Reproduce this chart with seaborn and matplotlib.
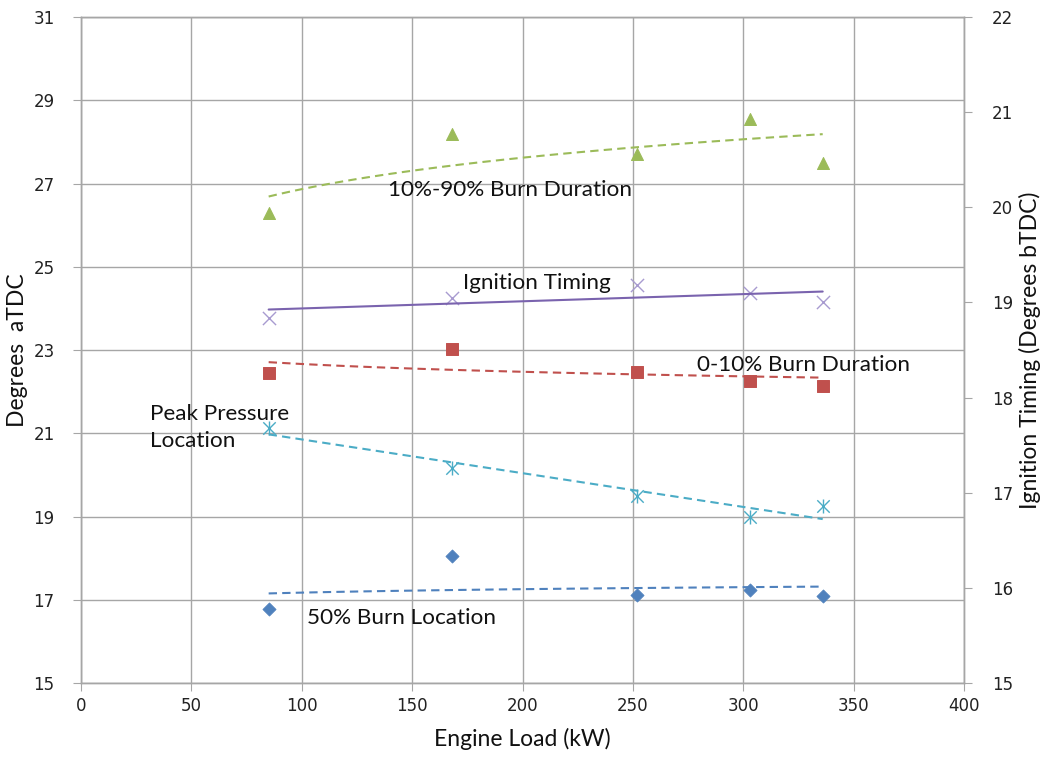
import numpy as np
import pandas as pd
import matplotlib
matplotlib.use("Agg")
import matplotlib.pyplot as plt
import seaborn as sns

# engine load points (kW)
load = [85, 168, 252, 303, 336]

# left axis series (degrees aTDC)
burn_10_90 = [26.3, 28.2, 27.7, 28.55, 27.5]
burn_0_10 = [22.45, 23.03, 22.47, 22.26, 22.14]
peak_pressure = [21.13, 20.17, 19.5, 18.99, 19.25]
burn_50 = [16.78, 18.05, 17.12, 17.24, 17.1]

# right axis series (degrees bTDC)
ignition = [18.84, 19.05, 19.18, 19.1, 19.0]

x_ticks = list(range(0, 401, 50))
left_ticks = list(range(15, 32, 2))
right_ticks = list(range(15, 23))

c_green = "#9BBB59"
c_red = "#C0504D"
c_cyan = "#4BACC6"
c_blue = "#4F81BD"
c_purple = "#7A63AE"
c_purple_mk = "#A89BD0"
grid_c = "#A6A6A6"


def log_trend(x, y):
    x = np.asarray(x, float)
    a, b = np.polyfit(np.log(x), y, 1)
    xs = np.linspace(x.min(), x.max(), 60)
    return pd.DataFrame({"x": xs, "y": a * np.log(xs) + b})


def lin_trend(x, y):
    x = np.asarray(x, float)
    a, b = np.polyfit(x, y, 1)
    xs = np.linspace(x.min(), x.max(), 60)
    return pd.DataFrame({"x": xs, "y": a * xs + b})


sns.set_style("white")
plt.rcParams["font.family"] = ["DejaVu Sans"]

fig = plt.figure(figsize=(10.47, 7.63), dpi=100)
ax = fig.add_axes([0.0774, 0.1048, 0.8433, 0.8729])
ax2 = ax.twinx()

# grid
ax.set_xlim(0, 400)
ax.set_ylim(15, 31)
ax2.set_ylim(15, 22)
ax.set_xticks(x_ticks)
ax.set_yticks(left_ticks)
ax2.set_yticks(right_ticks)
ax.grid(True, color=grid_c, lw=1)
ax.set_axisbelow(True)
for a in (ax, ax2):
    for s in a.spines.values():
        s.set_color(grid_c)
        s.set_linewidth(1)

# trendlines
sns.lineplot(data=log_trend(load, burn_10_90), x="x", y="y", ax=ax, color=c_green,
             lw=1.5, linestyle=(0, (4, 2.5)))
sns.lineplot(data=log_trend(load, burn_0_10), x="x", y="y", ax=ax, color=c_red,
             lw=1.5, linestyle=(0, (4, 2.5)))
sns.lineplot(data=lin_trend(load, peak_pressure), x="x", y="y", ax=ax, color=c_cyan,
             lw=1.5, linestyle=(0, (4, 2.5)))
sns.lineplot(data=log_trend(load, burn_50), x="x", y="y", ax=ax, color=c_blue,
             lw=1.5, linestyle=(0, (4, 2.5)))
sns.lineplot(data=lin_trend(load, ignition), x="x", y="y", ax=ax2, color=c_purple, lw=1.5)

# markers
sns.scatterplot(x=load, y=burn_10_90, ax=ax, marker="^", s=75, color=c_green, edgecolor=c_green)
sns.scatterplot(x=load, y=burn_0_10, ax=ax, marker="s", s=75, color=c_red, edgecolor=c_red)
sns.scatterplot(x=load, y=peak_pressure, ax=ax, marker="x", s=80, color=c_cyan, linewidth=1)
sns.scatterplot(x=load, y=peak_pressure, ax=ax, marker="|", s=110, color=c_cyan, linewidth=1)
sns.scatterplot(x=load, y=burn_50, ax=ax, marker="D", s=45, color=c_blue, edgecolor=c_blue)
sns.scatterplot(x=load, y=ignition, ax=ax2, marker="x", s=90, color=c_purple_mk, linewidth=1)

# tick styling
ax.tick_params(axis="y", direction="out", length=6, color=grid_c, labelsize=12,
               labelcolor="#222222", pad=13, left=True)
ax.tick_params(axis="x", direction="out", length=6, color=grid_c, labelsize=12,
               labelcolor="#222222", pad=4, bottom=True)
ax2.tick_params(axis="y", direction="out", length=6, color=grid_c, labelsize=12,
                labelcolor="#222222", pad=14, right=True)

lab_font = dict(family=["Lato", "DejaVu Sans"], size=16.5, color="#111111")
ax.set_xlabel("Engine Load (kW)", labelpad=9, **lab_font)
ax.set_ylabel("Degrees  aTDC", labelpad=4, **lab_font)
ax2.set_ylabel("Ignition Timing (Degrees bTDC)", labelpad=4, **lab_font)

ann_font = dict(family=["Lato", "DejaVu Sans"], size=16.2, color="#111111", va="center")
ax.text(139, 26.84, "10%-90% Burn Duration", **ann_font)
ax.text(173, 24.61, "Ignition Timing", **ann_font)
ax.text(279, 22.64, "0-10% Burn Duration", **ann_font)
ax.text(31.3, 21.14, "Peak Pressure\nLocation", linespacing=1.4, **ann_font)
ax.text(102.4, 16.56, "50% Burn Location", **ann_font)

fig.savefig("out.png", dpi=100, facecolor="white")
